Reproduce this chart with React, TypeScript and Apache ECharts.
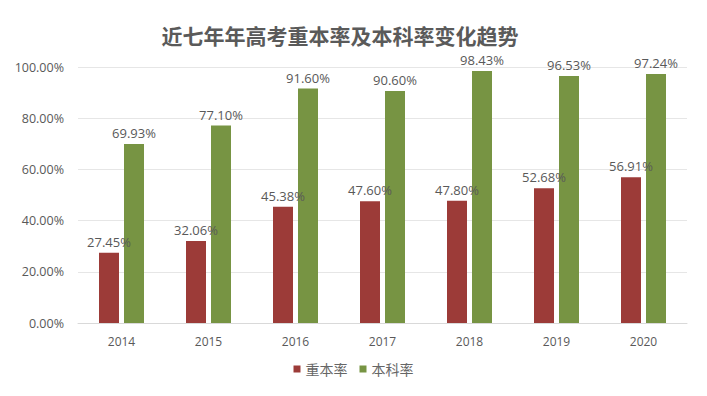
import React, { useEffect, useRef } from "react";
import * as echarts from "echarts";

const years = ["2014", "2015", "2016", "2017", "2018", "2019", "2020"];
const zhongbenRate = [27.45, 32.06, 45.38, 47.6, 47.8, 52.68, 56.91];
const benkeRate = [69.93, 77.1, 91.6, 90.6, 98.43, 96.53, 97.24];
const seriesNames = ["重本率", "本科率"];

export default function App() {
  const ref = useRef<HTMLDivElement>(null);
  useEffect(() => {
    if (!ref.current) return;
    const chart = echarts.init(ref.current, null, { renderer: "svg" });
    const font = "'Open Sans', 'Noto Sans CJK SC', sans-serif";
    const labelStyle = {
      show: true,
      position: "top" as const,
      distance: 4,
      color: "#595959",
      fontSize: 13,
      lineHeight: 14,
      fontFamily: font,
      formatter: (p: any) => p.value.toFixed(2) + "%",
    };
    chart.setOption({
      animation: false,
      backgroundColor: "#ffffff",
      title: {
        text: "近七年年高考重本率及本科率变化趋势",
        left: 335,
        top: 19,
        textAlign: "center",
        textStyle: {
          fontFamily: "'Noto Sans CJK SC', sans-serif",
          fontSize: 21,
          fontWeight: "bold",
          color: "#5a5a5a",
          lineHeight: 22,
        },
      },
      legend: {
        bottom: 15,
        left: "center",
        itemWidth: 7,
        itemHeight: 7,
        itemGap: 12,
        icon: "rect",
        textStyle: {
          fontFamily: "'Noto Sans CJK SC', sans-serif",
          fontSize: 14,
          color: "#666666",
        },
        data: seriesNames,
      },
      grid: { left: 78, right: 20, top: 67, bottom: 73 },
      xAxis: {
        type: "category",
        data: years,
        axisLine: { lineStyle: { color: "#d9d9d9" } },
        axisTick: { show: false },
        axisLabel: { color: "#595959", fontSize: 12, fontFamily: font, margin: 12 },
      },
      yAxis: {
        type: "value",
        min: 0,
        max: 100,
        interval: 20,
        axisLine: { show: false },
        axisTick: { show: false },
        splitLine: { lineStyle: { color: "#e6e6e6" } },
        axisLabel: {
          color: "#595959",
          fontSize: 12.5,
          fontFamily: font,
          margin: 14,
          formatter: (v: number) => v.toFixed(2) + "%",
        },
      },
      series: [
        {
          name: seriesNames[0],
          type: "bar",
          data: zhongbenRate,
          barWidth: 20,
          barGap: "25%",
          itemStyle: { color: "#9c3b38" },
          label: labelStyle,
        },
        {
          name: seriesNames[1],
          type: "bar",
          data: benkeRate,
          barWidth: 20,
          itemStyle: { color: "#779443" },
          label: labelStyle,
        },
      ],
    });
    return () => chart.dispose();
  }, []);
  return <div ref={ref} style={{ width: 707, height: 396, position: "absolute", left: 0, top: 0 }} />;
}
